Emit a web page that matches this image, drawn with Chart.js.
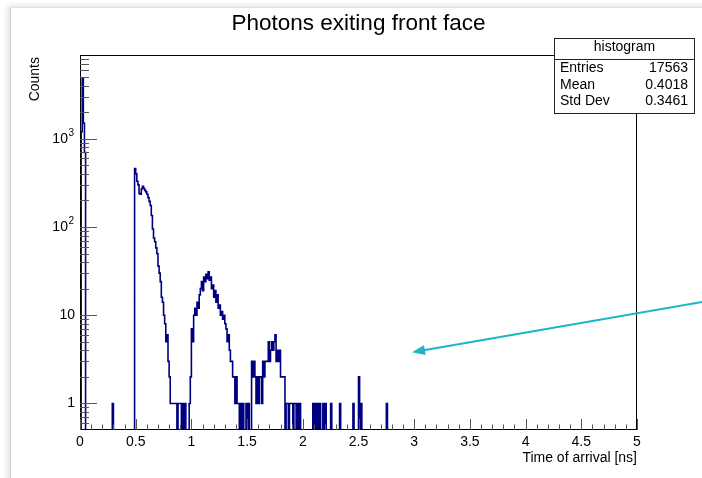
<!DOCTYPE html>
<html>
<head>
<meta charset="utf-8">
<title>Photons exiting front face</title>
<script src="https://cdn.jsdelivr.net/npm/chart.js@4.4.0/dist/chart.umd.min.js"></script>
<style>
  html, body { margin: 0; padding: 0; background: #fff; }
  #wrap { position: relative; width: 702px; height: 478px; overflow: hidden; }
  #sheet { position: absolute; left: 10px; top: 7px; width: 760px; height: 540px; background: #fff;
           border-left: 1px solid #d4d4d4; border-top: 1px solid #e2e2e2;
           box-shadow: -3px -2px 5px rgba(0, 0, 0, 0.10); }
  #plot { position: absolute; left: 0; top: 0; }
</style>
</head>
<body>
<div id="wrap">
  <div id="sheet"></div>
  <canvas id="plot" width="702" height="478"></canvas>
</div>
<script>
// histogram binning: 500 bins of 0.01 ns between 0 and 5 ns
var binWidth = 0.01;
var xMin = 0, xMax = 5;
var yMin = 0.5, yMax = 8900;

// prompt photons just after t = 0
var promptStart = 0.01;
var promptCounts = [1200, 4900, 1500, 700];

// first arrival peak (direct light) and its tail
var peak1Start = 0.49;
var peak1Counts = [460, 400, 330, 300, 240, 235, 270, 290, 275, 260,
                   250, 235, 215, 195, 175, 135, 95, 75, 68, 58,
                   50, 36, 30, 24, 16, 14, 10, 8, 5, 6,
                   3, 2, 1, 1, 1, 1, 1, 1, 0, 1,
                   1, 1, 0, 1, 0, 1];

// second peak (one reflection)
var peak2Start = 0.98;
var peak2Counts = [1, 2, 7, 5, 10, 12, 10, 14, 12, 17,
                   20, 24, 19, 27, 24, 29, 26, 31, 25, 27,
                   20, 22, 16, 19, 14, 17, 12, 13, 10, 11,
                   9, 10, 8, 7, 5, 6, 4, 3, 3, 2,
                   2, 1, 2, 1, 1, 0, 1, 0, 1, 0,
                   0, 1, 0, 1, 0, 0];

// third peak (two reflections)
var peak3Start = 1.54;
var peak3Counts = [3, 2, 3, 2, 1, 2, 1, 2, 2, 1,
                   3, 2, 3, 3, 3, 5, 3, 4, 5, 4,
                   5, 6, 3, 4, 3, 4, 2, 2, 2, 2,
                   0, 1, 1, 0, 1, 1, 1, 0, 1, 1,
                   0, 1, 0, 1];

// isolated late / early single counts
var strayBins = [0.29, 2.09, 2.11, 2.13, 2.15, 2.18, 2.20, 2.25, 2.33, 2.45, 2.50, 2.52, 2.75];
var strayCounts = [1, 1, 1, 1, 1, 1, 1, 1, 1, 1, 2, 1, 1];

// axis ticks and labels
var xTicks = [0, 0.5, 1, 1.5, 2, 2.5, 3, 3.5, 4, 4.5, 5];
var xTickLabels = ['0', '0.5', '1', '1.5', '2', '2.5', '3', '3.5', '4', '4.5', '5'];
var xMinorStep = 0.1;
var yTicks = [1, 10, 100, 1000];
var yTickBase = ['1', '10', '10', '10'];
var yTickExp = ['', '', '2', '3'];

var statsTitle = 'histogram';
var statsNames = ['Entries', 'Mean', 'Std Dev'];
var statsValues = ['17563', '0.4018', '0.3461'];

var titleText = 'Photons exiting front face';
var xTitle = 'Time of arrival [ns]';
var yTitle = 'Counts';

// fill the bin contents
var nBins = Math.round((xMax - xMin) / binWidth);
var counts = [];
for (var i = 0; i < nBins; i++) counts.push(0);

function fillRun(start, values) {
  var i0 = Math.round((start - xMin) / binWidth);
  values.forEach(function (v, k) { counts[i0 + k] = v; });
}
fillRun(promptStart, promptCounts);
fillRun(peak1Start, peak1Counts);
fillRun(peak2Start, peak2Counts);
fillRun(peak3Start, peak3Counts);
strayBins.forEach(function (b, k) { fillRun(b, [strayCounts[k]]); });

// empty bins go below the frame, like ROOT does on a log axis
var below = 0.1;
var points = counts.map(function (c, i) {
  return { x: xMin + i * binWidth, y: c > 0 ? c : below };
});
points.push({ x: xMax, y: points[points.length - 1].y });

var font = "'Liberation Sans', Arial, Helvetica, sans-serif";

var rootFrame = {
  id: 'rootFrame',
  afterDatasetsDraw: function (chart) {
    var ctx = chart.ctx, a = chart.chartArea;
    var xs = chart.scales.x, ys = chart.scales.y;
    ctx.save();

    // frame
    ctx.strokeStyle = '#000';
    ctx.lineWidth = 1;
    ctx.strokeRect(a.left + 0.5, a.top + 0.5, a.right - a.left - 1, a.bottom - a.top - 1);

    // x ticks, drawn inward
    ctx.strokeStyle = '#555';
    ctx.beginPath();
    var nMinor = Math.round((xMax - xMin) / xMinorStep);
    for (var i = 0; i <= nMinor; i++) {
      var v = xMin + i * xMinorStep;
      var major = xTicks.some(function (t) { return Math.abs(t - v) < 1e-6; });
      var px = Math.round(xs.getPixelForValue(v)) + 0.5;
      ctx.moveTo(px, a.bottom);
      ctx.lineTo(px, a.bottom - (major ? 11 : 5.5));
    }
    // y ticks on the log axis
    for (var d = -1; d <= 3; d++) {
      for (var k = 1; k <= 9; k++) {
        var yv = k * Math.pow(10, d);
        if (yv <= yMin || yv >= yMax) continue;
        var py = Math.round(ys.getPixelForValue(yv)) + 0.5;
        ctx.moveTo(a.left, py);
        ctx.lineTo(a.left + (k === 1 ? 17 : 9), py);
      }
    }
    ctx.stroke();

    // tick labels
    ctx.fillStyle = '#000';
    ctx.font = '14px ' + font;
    ctx.textAlign = 'center';
    ctx.textBaseline = 'alphabetic';
    xTicks.forEach(function (t, j) {
      ctx.fillText(xTickLabels[j], xs.getPixelForValue(t), a.bottom + 16);
    });
    yTicks.forEach(function (t, j) {
      var py = ys.getPixelForValue(t);
      var right = 74;
      ctx.textBaseline = 'middle';
      if (yTickExp[j]) {
        ctx.font = '10px ' + font;
        ctx.textAlign = 'right';
        ctx.fillText(yTickExp[j], right, py - 6);
        var ew = ctx.measureText(yTickExp[j]).width;
        ctx.font = '14px ' + font;
        ctx.fillText(yTickBase[j], right - ew - 0.5, py);
      } else {
        ctx.font = '14px ' + font;
        ctx.textAlign = 'right';
        ctx.fillText(yTickBase[j], right + 1, py);
      }
    });

    // axis titles
    ctx.font = '14px ' + font;
    ctx.textAlign = 'right';
    ctx.textBaseline = 'alphabetic';
    ctx.fillText(xTitle, a.right, 462);
    ctx.save();
    ctx.translate(39, a.top + 2);
    ctx.rotate(-Math.PI / 2);
    ctx.textAlign = 'right';
    ctx.fillText(yTitle, 0, 0);
    ctx.restore();

    // title
    ctx.font = '22.5px ' + font;
    ctx.textAlign = 'center';
    ctx.fillText(titleText, (a.left + a.right) / 2, 30);

    // stats box
    var bx = 554.5, by = 38.5, bw = 140, bh = 75;
    ctx.fillStyle = '#fff';
    ctx.fillRect(bx, by, bw, bh);
    ctx.strokeStyle = '#222';
    ctx.strokeRect(bx, by, bw, bh);
    ctx.beginPath();
    ctx.moveTo(bx, 59.5);
    ctx.lineTo(bx + bw, 59.5);
    ctx.stroke();
    ctx.fillStyle = '#000';
    ctx.font = '14px ' + font;
    ctx.textAlign = 'center';
    ctx.fillText(statsTitle, bx + bw / 2, 51);
    var rowBase = [72, 88.5, 105];
    statsNames.forEach(function (n, j) {
      ctx.textAlign = 'left';
      ctx.fillText(n, 560, rowBase[j]);
      ctx.textAlign = 'right';
      ctx.fillText(statsValues[j], 688, rowBase[j]);
    });

    // annotation arrow pointing into the empty late-time region
    var x0 = 704, y0 = 301.7, x1 = 412, y1 = 352.3;
    var ang = Math.atan2(y1 - y0, x1 - x0);
    var c = Math.cos(ang), s = Math.sin(ang);
    ctx.strokeStyle = '#1db5c6';
    ctx.fillStyle = '#1db5c6';
    ctx.lineWidth = 2;
    ctx.beginPath();
    ctx.moveTo(x0, y0);
    ctx.lineTo(x1 - 9 * c, y1 - 9 * s);
    ctx.stroke();
    ctx.beginPath();
    ctx.moveTo(x1, y1);
    ctx.lineTo(x1 - 13 * c + 5 * s, y1 - 13 * s - 5 * c);
    ctx.lineTo(x1 - 13 * c - 5 * s, y1 - 13 * s + 5 * c);
    ctx.closePath();
    ctx.fill();

    ctx.restore();
  }
};

var ctx = document.getElementById('plot').getContext('2d');
var chart = new Chart(ctx, {
  type: 'line',
  data: {
    datasets: [{
      label: statsTitle,
      data: points,
      borderColor: '#00007f',
      borderWidth: 1.6,
      pointRadius: 0,
      stepped: true,
      fill: false,
      clip: 0
    }]
  },
  options: {
    responsive: false,
    animation: false,
    events: [],
    layout: { padding: { left: 80, top: 55, right: 65, bottom: 48 } },
    plugins: { legend: { display: false }, tooltip: { enabled: false } },
    scales: {
      x: { type: 'linear', min: xMin, max: xMax, display: false },
      y: { type: 'logarithmic', min: yMin, max: yMax, display: false }
    }
  },
  plugins: [rootFrame]
});
</script>
</body>
</html>
